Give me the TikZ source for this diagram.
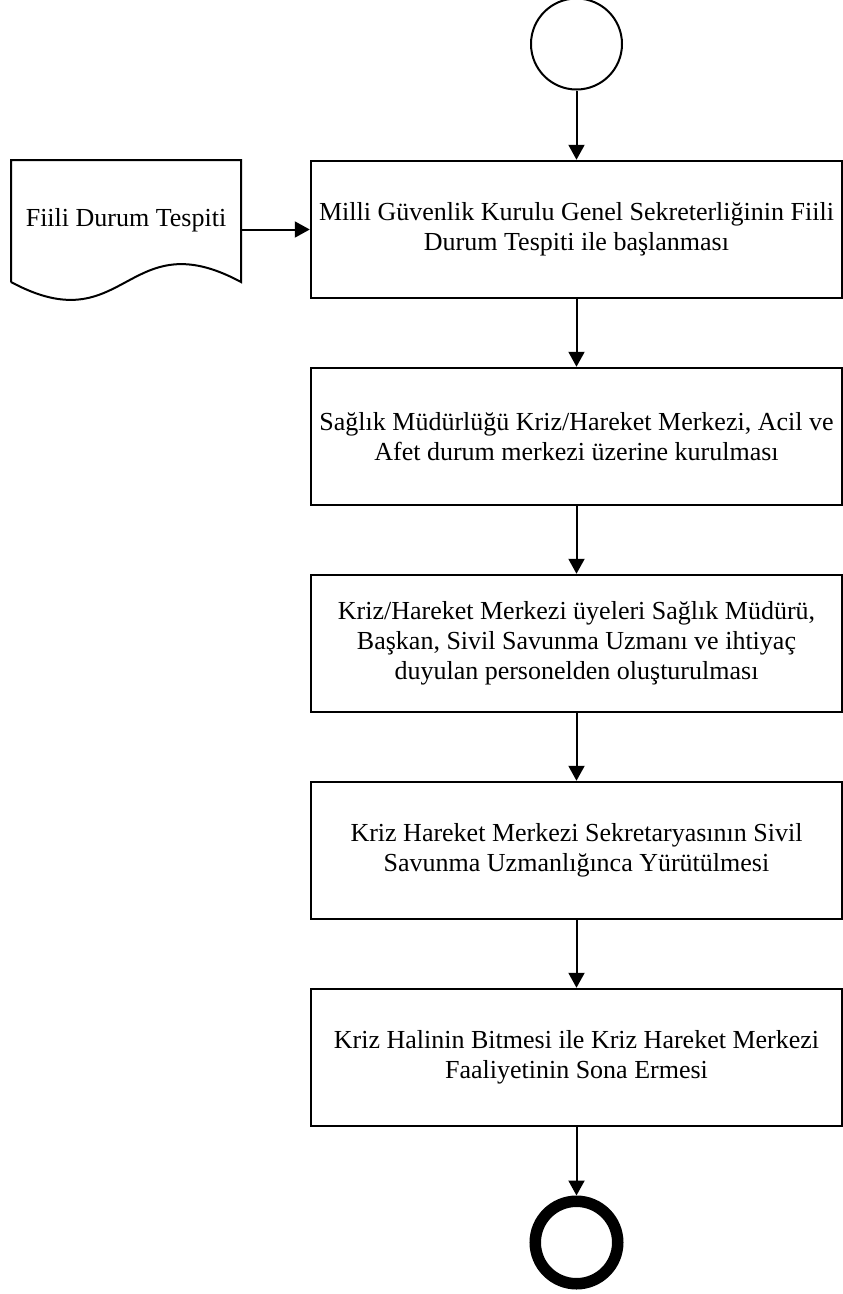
\documentclass[tikz,border=0pt]{standalone}
\usepackage{fontspec}
\setmainfont{Liberation Serif}
\usetikzlibrary{arrows.meta,calc}

\tikzset{
  stepbox/.style={draw, line width=2.5pt, rectangle, minimum width=531pt,
    minimum height=137pt, inner sep=0pt, align=center,
    font=\fontsize{26}{30}\selectfont},
  flow/.style={line width=2pt, -{Triangle[length=15pt,width=16pt]}},
  startnode/.style={draw, circle, line width=2pt, minimum size=91pt, inner sep=0pt},
  endnode/.style={draw, circle, line width=11.5pt, minimum size=82.5pt, inner sep=0pt},
  docnode/.style={minimum width=230pt, minimum height=122pt, inner sep=0pt,
    outer sep=0pt, font=\fontsize{26}{30}\selectfont},
}

\begin{document}
\begin{tikzpicture}[x=1pt, y=-1pt]
\useasboundingbox (0,0) rectangle (843,1294);

% start and end events
\node[startnode] (start) at (576.5,44) {};
\node[endnode] (stop) at (576.5,1242.5) {};

% process steps
\node[stepbox] (b1) at (576.5,229.5)
  {Milli Güvenlik Kurulu Genel Sekreterliğinin Fiili\\Durum Tespiti ile başlanması};
\node[stepbox] (b2) at (576.5,436.5)
  {Sağlık Müdürlüğü Kriz/Hareket Merkezi, Acil ve\\Afet durum merkezi üzerine kurulması};
\node[stepbox] (b3) at (576.5,643.5)
  {Kriz/Hareket Merkezi üyeleri Sağlık Müdürü,\\Başkan, Sivil Savunma Uzmanı ve ihtiyaç\\duyulan personelden oluşturulması};
\node[stepbox] (b4) at (576.5,850.5)
  {Kriz Hareket Merkezi Sekretaryasının Sivil\\Savunma Uzmanlığınca Yürütülmesi};
\node[stepbox] (b5) at (576.5,1057.5)
  {Kriz Halinin Bitmesi ile Kriz Hareket Merkezi\\Faaliyetinin Sona Ermesi};

% input document
\node[docnode] (doc) at (126,221) {\raisebox{7pt}{Fiili Durum Tespiti}};
\draw[line width=2pt, line join=miter]
  (doc.south west) -- (doc.north west) -- (doc.north east) -- (doc.south east)
  .. controls ($(doc.south)+(0,-62)$) and ($(doc.south)+(0,62)$) .. (doc.south west);

% connectors
\draw[flow] (start) -- (b1);
\draw[flow] (b1) -- (b2);
\draw[flow] (b2) -- (b3);
\draw[flow] (b3) -- (b4);
\draw[flow] (b4) -- (b5);
\draw[flow] (b5) -- (stop);
\draw[flow] (doc.east |- b1.west) -- (b1.west);
\end{tikzpicture}
\end{document}
